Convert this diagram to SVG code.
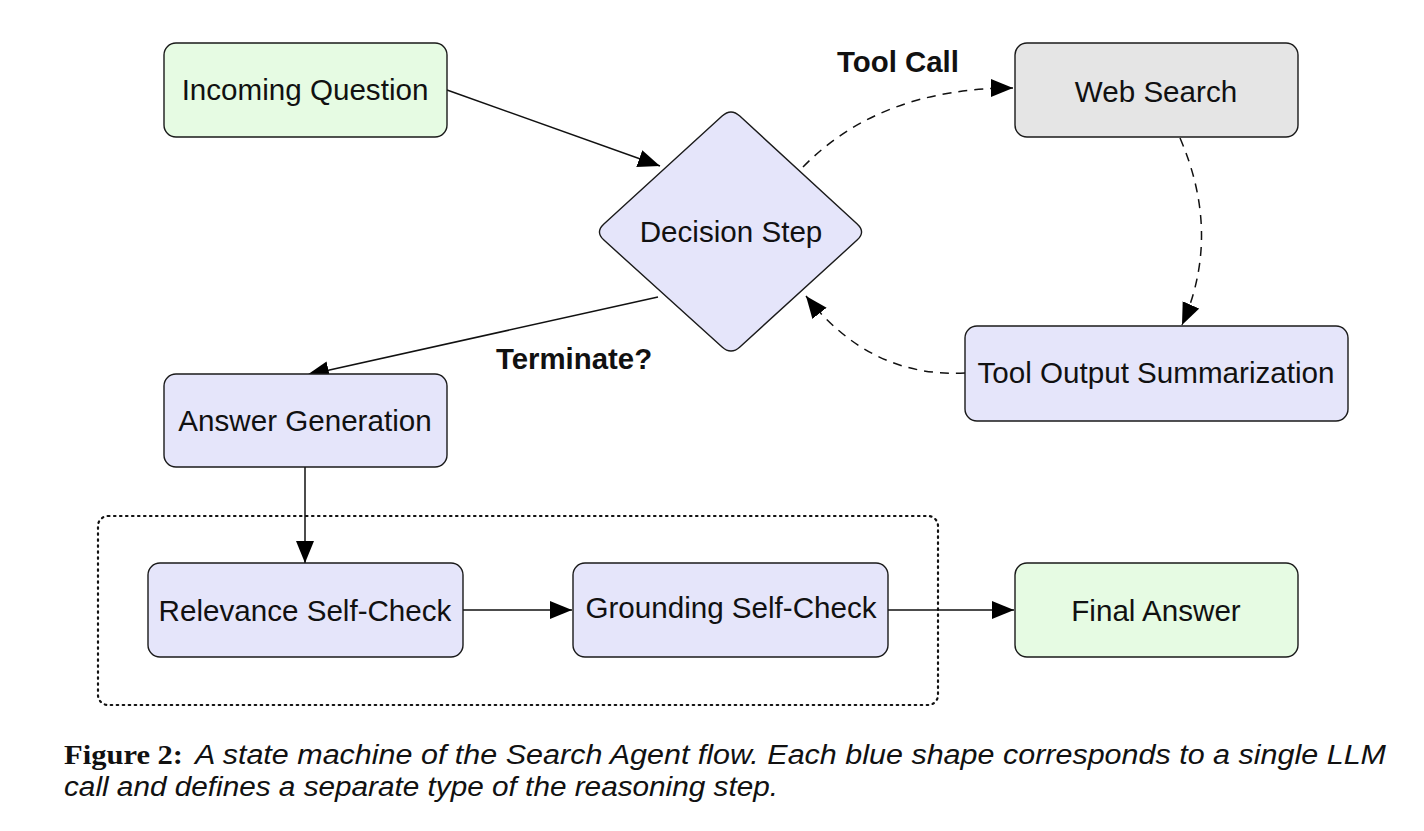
<svg xmlns="http://www.w3.org/2000/svg" width="1424" height="831" viewBox="0 0 1424 831">
<style>
.node{stroke:#1a1a1a;stroke-width:1.4}
.green{fill:#e6fbe3}
.blue{fill:#e5e5fa}
.gray{fill:#e5e5e5}
.lbl{font-family:"Liberation Sans",Arial,sans-serif;font-size:29.6px;fill:#111;text-anchor:middle}
.bold{font-family:"Liberation Sans",Arial,sans-serif;font-size:29.4px;font-weight:bold;fill:#111;text-anchor:middle}
.edge{fill:none;stroke:#111;stroke-width:1.5}
.dash{stroke-dasharray:9 7}
.cap{font-family:"Liberation Sans",Arial,sans-serif;font-size:27px;font-style:italic;fill:#111}
.capb{font-family:"Liberation Serif","Times New Roman",serif;font-size:27px;font-weight:bold;fill:#111}
</style>
<defs>
<marker id="arr" markerUnits="userSpaceOnUse" markerWidth="24" markerHeight="20" refX="22" refY="9" orient="auto">
<path d="M0,0 L22,9 L0,18 z" fill="#000"/>
</marker>
</defs>
<rect x="0" y="0" width="1424" height="831" fill="#fff"/>

<g id="group-box">
<rect x="98" y="516" width="840" height="189" rx="10" fill="none" stroke="#111" stroke-width="2.2" stroke-dasharray="1.5 4.5" stroke-linecap="round"/>
</g>

<g id="connectors">
<line class="edge" x1="447" y1="90" x2="660" y2="166" marker-end="url(#arr)"/>
<line class="edge" x1="658" y1="297" x2="307" y2="375" marker-end="url(#arr)"/>
<path class="edge dash" d="M803,167 Q880,88 1013,88" marker-end="url(#arr)"/>
<path class="edge dash" d="M1180,138 Q1222,235 1182,325" marker-end="url(#arr)"/>
<path class="edge dash" d="M965,373 Q870,378 806,296" marker-end="url(#arr)"/>
<line class="edge" x1="305" y1="467" x2="305" y2="563" marker-end="url(#arr)"/>
<line class="edge" x1="463" y1="610" x2="572" y2="610" marker-end="url(#arr)"/>
<line class="edge" x1="888" y1="610" x2="1014" y2="610" marker-end="url(#arr)"/>
<text class="bold" x="898" y="72">Tool Call</text>
<text class="bold" x="574" y="369">Terminate?</text>
</g>

<g id="incoming-question">
<rect class="node green" x="164" y="43" width="283" height="94" rx="12"/>
<text class="lbl" x="305" y="100">Incoming Question</text>
</g>
<g id="web-search">
<rect class="node gray" x="1015" y="43" width="283" height="94" rx="12"/>
<text class="lbl" x="1156" y="102">Web Search</text>
</g>
<g id="decision-step">
<path class="node blue" d="M603.9,223.9 L722.1,116.1 Q731,108 739.8,116.1 L857.2,223.9 Q866,232 857.1,240.1 L739.9,346.9 Q731,355 722.1,346.9 L603.9,240.1 Q595,232 603.9,223.9 Z"/>
<text class="lbl" x="731" y="242">Decision Step</text>
</g>
<g id="tool-output-summarization">
<rect class="node blue" x="965" y="326" width="383" height="95" rx="12"/>
<text class="lbl" x="1156" y="383">Tool Output Summarization</text>
</g>
<g id="answer-generation">
<rect class="node blue" x="164" y="374" width="283" height="93" rx="12"/>
<text class="lbl" x="305" y="431">Answer Generation</text>
</g>
<g id="relevance-self-check">
<rect class="node blue" x="148" y="563" width="315" height="94" rx="12"/>
<text class="lbl" x="305" y="621">Relevance Self-Check</text>
</g>
<g id="grounding-self-check">
<rect class="node blue" x="573" y="563" width="315" height="94" rx="12"/>
<text class="lbl" x="731" y="618">Grounding Self-Check</text>
</g>
<g id="final-answer">
<rect class="node green" x="1015" y="563" width="283" height="94" rx="12"/>
<text class="lbl" x="1156" y="621">Final Answer</text>
</g>

<g id="caption">
<text class="capb" x="64" y="764" textLength="119" lengthAdjust="spacingAndGlyphs">Figure 2:</text>
<text class="cap" x="195" y="764" textLength="1191" lengthAdjust="spacingAndGlyphs">A state machine of the Search Agent flow.  Each blue shape corresponds to a single LLM</text>
<text class="cap" x="64" y="796" textLength="714" lengthAdjust="spacingAndGlyphs">call and defines a separate type of the reasoning step.</text>
</g>
</svg>
